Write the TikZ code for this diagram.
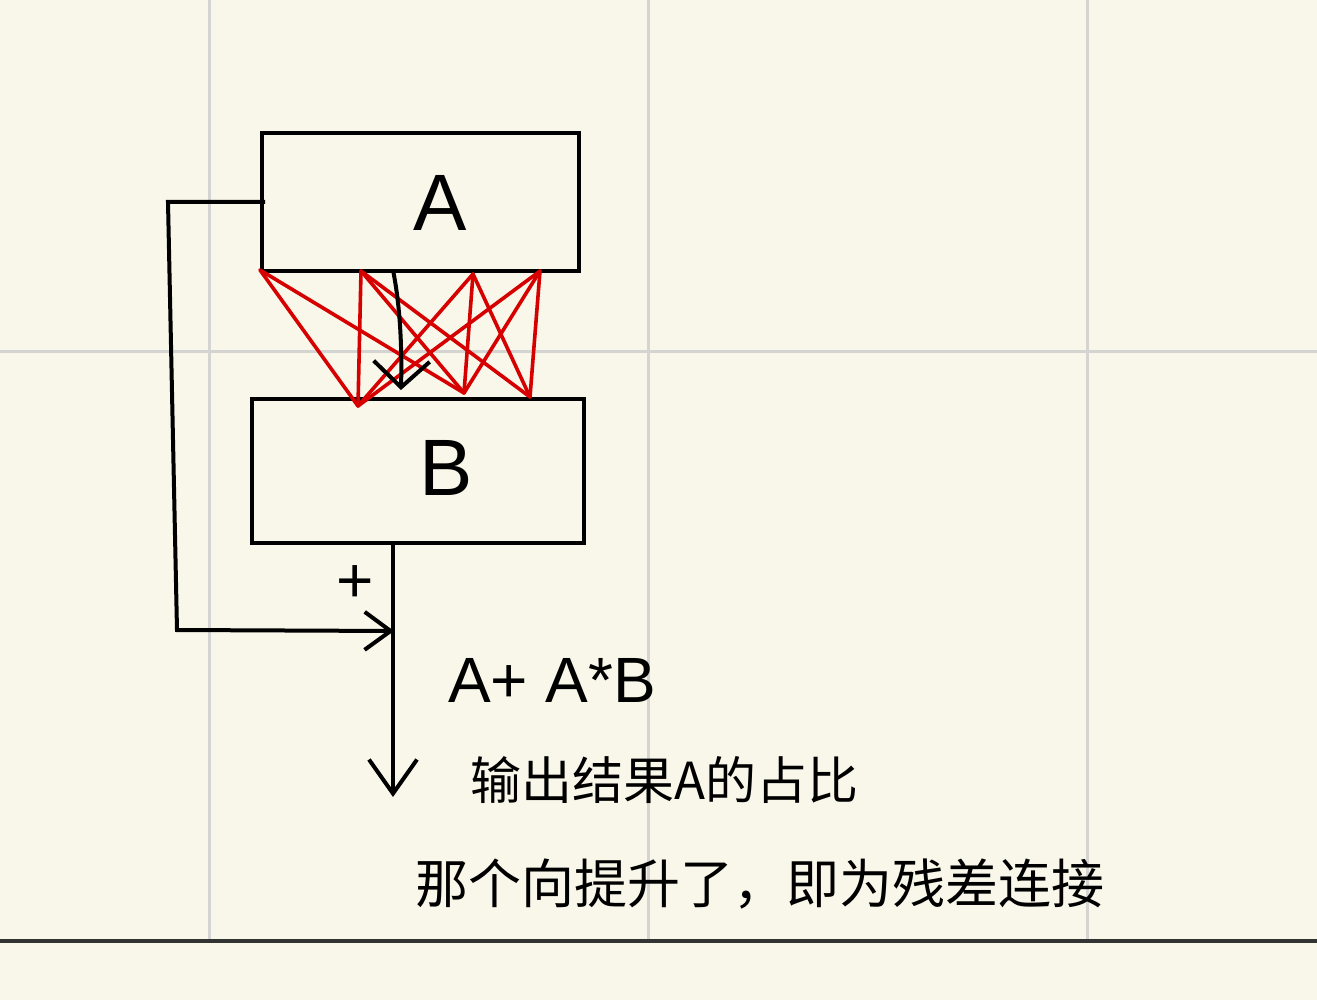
\documentclass[tikz,border=0pt]{standalone}
\usepackage{fontspec}
\setmainfont{Liberation Sans}
\newfontfamily\cjk{Noto Sans CJK SC}
\usetikzlibrary{arrows.meta}
\definecolor{paper}{HTML}{F8F7EA}
\definecolor{gridc}{HTML}{D4D4D2}
\definecolor{redl}{HTML}{D60000}
\definecolor{inkc}{HTML}{000000}
\begin{document}
\begin{tikzpicture}[x=1pt,y=-1pt,
  box/.style={draw=inkc,line width=4pt,inner sep=0pt},
  conn/.style={draw=inkc,line width=4pt,line join=miter},
  redline/.style={draw=redl,line width=3.6pt,line cap=round},
  gridline/.style={draw=gridc,line width=3pt},
  lbl/.style={inkc,inner sep=0pt,font=\fontsize{80}{80}\selectfont},
  hand/.style={inkc,inner sep=0pt,anchor=west},
]
\useasboundingbox (0,0) rectangle (1317,1000);
\fill[paper] (0,0) rectangle (1317,1000);
% grid
\draw[gridline] (209,0) -- (209,941);
\draw[gridline] (648,0) -- (648,941);
\draw[gridline] (1087,0) -- (1087,941);
\draw[gridline] (0,351) -- (1317,351);
\draw[draw=black!80,line width=3.5pt] (0,941) -- (1317,941);

% boxes
\node[box,minimum width=317pt,minimum height=138pt,anchor=north west] (A) at (260,131) {};
\node[box,minimum width=332pt,minimum height=144pt,anchor=north west] (B) at (250,397) {};
\node[lbl] (Alab) at (440,203) {A};
\node[lbl] (Blab) at (446,468) {B};

% red connections
\coordinate (a1) at (260,270);
\coordinate (a2) at (361,271);
\coordinate (a3) at (473,274);
\coordinate (a4) at (540,271);
\coordinate (b1) at (358,406);
\coordinate (b2) at (464,393);
\coordinate (b3) at (530,397);
\draw[redline] (a1) -- (b1);
\draw[redline] (a1) -- (b2);
\draw[redline] (a2) -- (b1);
\draw[redline] (a2) -- (b2);
\draw[redline] (a2) -- (b3);
\draw[redline] (a3) -- (b1);
\draw[redline] (a3) -- (b2);
\draw[redline] (a3) -- (b3);
\draw[redline] (a4) -- (b1);
\draw[redline] (a4) -- (b2);
\draw[redline] (a4) -- (b3);

% curved arrow A -> B
\coordinate (cs) at (393,270);
\coordinate (ce) at (401,390);
\draw[conn,-{Straight Barb[length=26pt,width=56pt]}] (cs) .. controls (400,305) and (402,345) .. (ce);

% feedback path
\coordinate (fb0) at (265,202);
\coordinate (fb1) at (168,202);
\coordinate (fb2) at (177,630);
\coordinate (jn) at (394,631);
\draw[conn,-{Straight Barb[length=26pt,width=38pt]}] (fb0) -- (fb1) -- (fb2) -- (jn);

% output line
\coordinate (bo) at (393,541);
\coordinate (out) at (393,797);
\draw[conn,-{Straight Barb[length=34pt,width=48pt]}] (bo) -- (out);

\node[inkc,inner sep=0pt,font=\fontsize{64}{64}\selectfont] (plus) at (355,584) {+};

% text
\node[hand,font=\fontsize{64}{64}\selectfont] (t1) at (448,680) {A+ A*B};
\node[hand,font=\cjk\fontsize{51}{51}\selectfont] (t2) at (470,780) {输出结果A的占比};
\node[hand,font=\cjk\fontsize{53}{53}\selectfont] (t3) at (415,884) {那个向提升了，即为残差连接};
\end{tikzpicture}
\end{document}
